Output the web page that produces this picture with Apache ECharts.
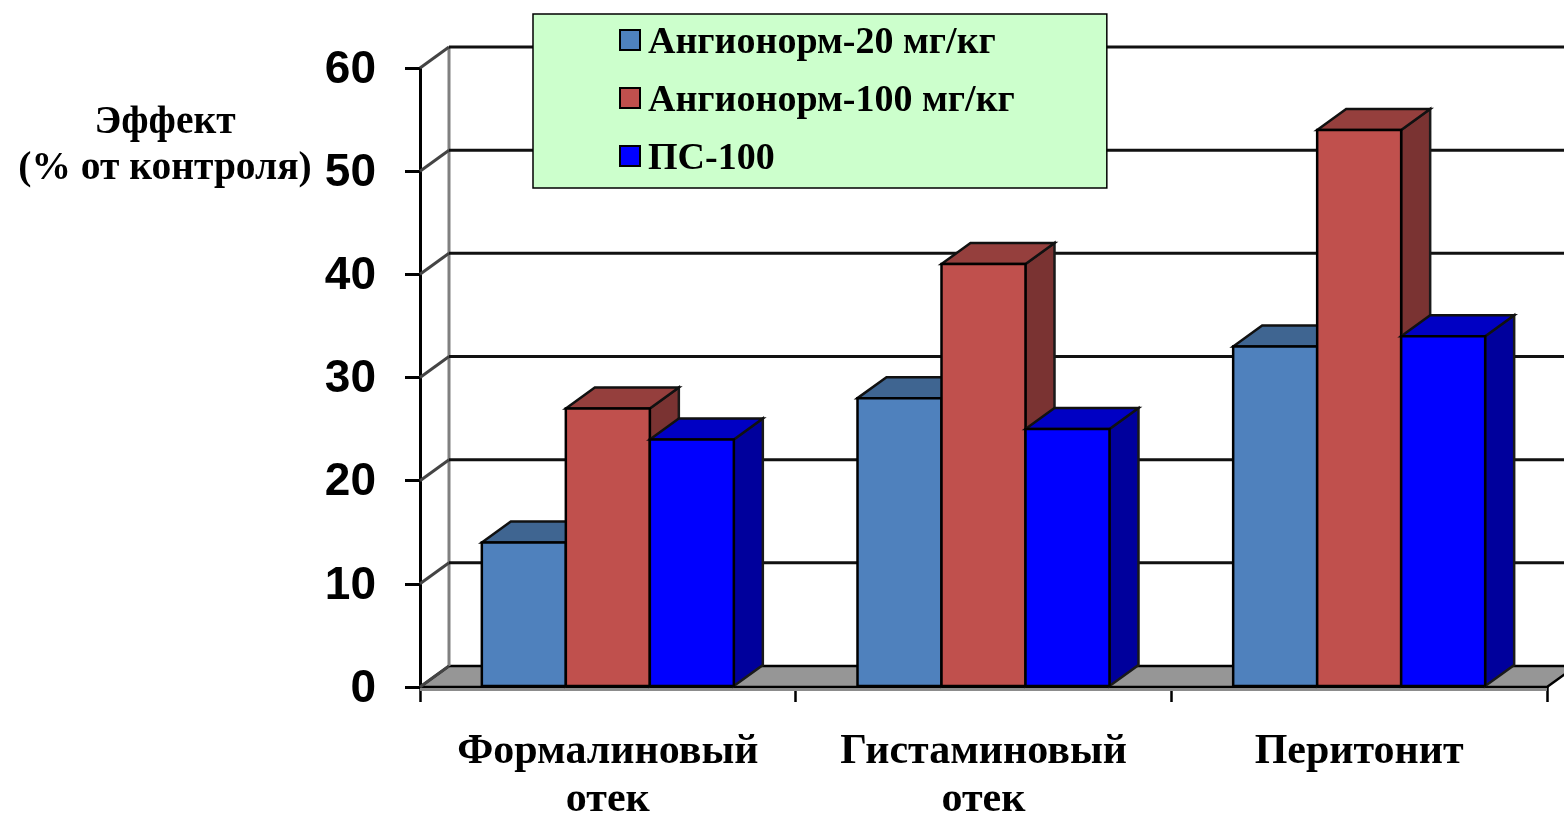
<!DOCTYPE html>
<html><head><meta charset="utf-8">
<style>html,body{margin:0;padding:0;background:#fff}#c{width:1564px;height:813px}</style>
<script src="https://cdn.jsdelivr.net/npm/echarts@6/dist/echarts.min.js"></script>
</head><body><div id="c"></div>
<script>
var categories = ['Формалиновый\nотек', 'Гистаминовый\nотек', 'Перитонит'];
var seriesNames = ['Ангионорм-20 мг/кг', 'Ангионорм-100 мг/кг', 'ПС-100'];
var angio20 = [14, 28, 33];
var angio100 = [27, 41, 54];
var ps100 = [24, 25, 34];
var gridValues = [0, 10, 20, 30, 40, 50, 60];
var yTitle = 'Эффект\n(% от контроля)';

var DX = 29, DY = -21, BAR_RATIO = 0.2236;
var palette = [
  {front:'#4F81BD', top:'#3F6591', side:'#2F4D72'},
  {front:'#C0504D', top:'#953F3D', side:'#7A3332'},
  {front:'#0000FF', top:'#0000C4', side:'#00009C'}
];

function poly(pts, fill, stroke, w) {
  return {type:'polygon', shape:{points:pts}, style:{fill:fill, stroke:stroke, lineWidth:w, lineJoin:'miter'}};
}
function line(x1,y1,x2,y2,color,w){
  return {type:'line', shape:{x1:x1,y1:y1,x2:x2,y2:y2}, style:{stroke:color, lineWidth:w, fill:null}};
}

function barSeries(idx, values) {
  var pal = palette[idx];
  return {
    name: seriesNames[idx], type:'custom', z:5,
    itemStyle:{color:pal.front, borderColor:'#000', borderWidth:3},
    data: values.map(function(v,i){return [i,v];}),
    encode:{x:0,y:1},
    renderItem:function(params, api){
      var c = api.coord([api.value(0), api.value(1)]);
      var b = api.coord([api.value(0), 0]);
      var band = api.size([1,0])[0];
      var w = band*BAR_RATIO;
      var x0 = c[0] - 1.5*w + idx*w, x1 = x0 + w, yT = c[1], yB = b[1]-1;
      return {type:'group', children:[
        poly([[x1,yB],[x1+DX,yB+DY],[x1+DX,yT+DY],[x1,yT]], pal.side, '#1a1a1a', 2.5),
        poly([[x0,yT],[x0+DX,yT+DY],[x1+DX,yT+DY],[x1,yT]], pal.top, '#111', 2.5),
        poly([[x0,yB],[x0,yT],[x1,yT],[x1,yB]], pal.front, '#000', 2.5)
      ]};
    }
  };
}

var floorSeries = {
  type:'custom', z:2, silent:true, tooltip:{show:false}, data:[[0,0]],
  encode:{x:0,y:1},
  renderItem:function(params, api){
    var s = params.coordSys, y0 = s.y + s.height, L = s.x, R = s.x + s.width;
    var yTop = s.y;
    return {type:'group', children:[
      poly([[L,y0],[L+DX,y0+DY],[R+DX,y0+DY],[R,y0]], '#969696', '#000', 2.5),
      {type:'rect', shape:{x:L,y:y0+1,width:R-L,height:3}, style:{fill:'#8c8c8c'}},
      line(L+DX, yTop+DY, L+DX, y0+DY, '#808080', 3)
    ]};
  }
};
var wallSeries = {
  type:'custom', z:3, silent:true, tooltip:{show:false},
  data:gridValues.map(function(v){return [0,v];}),
  encode:{x:0,y:1},
  renderItem:function(params, api){
    var s = params.coordSys, L = s.x, R = s.x + s.width;
    var y = api.coord([0, api.value(1)])[1];
    var kids = [line(L, y, L+DX, y+DY, '#444', 3)];
    if (api.value(1) > 0) kids.push(line(L+DX, y+DY, R+DX, y+DY, '#111', 3));
    return {type:'group', children:kids};
  }
};

var chart = echarts.init(document.getElementById('c'), null, {renderer:'canvas', width:1564, height:813});
chart.setOption({
  animation:false,
  backgroundColor:'#fff',
  title:{
    text:yTitle, left:160, top:95, textAlign:'center',
    textStyle:{fontFamily:'Liberation Serif', fontWeight:'bold', fontSize:39.5, color:'#000', lineHeight:46, align:'center'}
  },
  grid:{left:420, right:17, top:68, bottom:126, outerBoundsMode:'none'},
  legend:{
    orient:'vertical', left:533, top:14,
    data:seriesNames, icon:'rect', selectedMode:false,
    itemWidth:20, itemHeight:20, itemGap:20,
    backgroundColor:'#CCFFCC', borderColor:'#000', borderWidth:1.5,
    padding:[10,92,10,86],
    formatter:'{a|{name}}',
    textStyle:{
      color:'#000',
      rich:{a:{fontFamily:'Liberation Serif', fontWeight:'bold', fontSize:38, color:'#000', lineHeight:44, verticalAlign:'bottom', padding:[0,0,0,3]}}
    },
    z:10
  },
  xAxis:{
    type:'category', data:categories,
    axisLine:{show:true, lineStyle:{color:'#000', width:2.5}},
    axisTick:{show:true, length:15, alignWithLabel:false, lineStyle:{color:'#000', width:2.5}},
    axisLabel:{fontFamily:'Liberation Serif', fontWeight:'bold', fontSize:42, color:'#000', lineHeight:48, margin:41, interval:0},
    splitLine:{show:false}
  },
  yAxis:{
    type:'value', min:0, max:60, interval:10,
    axisLine:{show:true, lineStyle:{color:'#000', width:3}},
    axisTick:{show:true, length:15, lineStyle:{color:'#000', width:3}},
    axisLabel:{
      formatter:'{a|{value}}', margin:44,
      rich:{a:{fontFamily:'Liberation Sans', fontWeight:'bold', fontSize:46, color:'#000', lineHeight:50, verticalAlign:'bottom'}}
    },
    splitLine:{show:false}
  },
  series:[floorSeries, wallSeries, barSeries(0,angio20), barSeries(1,angio100), barSeries(2,ps100)]
});
</script></body></html>
